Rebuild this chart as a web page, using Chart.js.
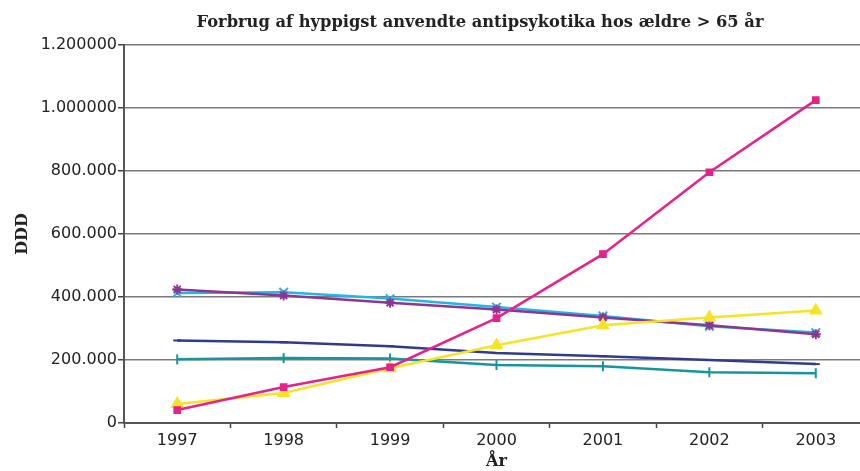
<!DOCTYPE html>
<html>
<head>
<meta charset="utf-8">
<script src="https://cdn.jsdelivr.net/npm/chart.js@4/dist/chart.umd.min.js"></script>
<style>
  html, body { margin: 0; padding: 0; background: #ffffff; overflow: hidden; }
  #wrap { width: 860px; height: 471px; position: relative; overflow: hidden; }
  #c { display: block; }
</style>
</head>
<body>
<div id="wrap"><canvas id="c" width="869" height="471"></canvas></div>
<script>
const years = ['1997', '1998', '1999', '2000', '2001', '2002', '2003'];
const yTickValues = [0, 200000, 400000, 600000, 800000, 1000000, 1200000];
const yTickLabels = ['0', '200.000', '400.000', '600.000', '800.000', '1.000000', '1.200000'];

const magentaSeries = [41000, 114000, 177000, 333000, 536000, 796000, 1025000];
const yellowSeries  = [60000, 95000, 174000, 247000, 310000, 335000, 357000];
const purpleSeries  = [424000, 405000, 382000, 360000, 335000, 310000, 282000];
const cyanSeries    = [413000, 415000, 395000, 368000, 340000, 307000, 287000];
const navySeries    = [262000, 256000, 244000, 222000, 212000, 200000, 187000];
const tealSeries    = [202000, 206000, 205000, 184000, 180000, 161000, 158000];

const titleText = 'Forbrug af hyppigst anvendte antipsykotika hos ældre > 65 år';

function ds(label, data, color, style, radius, rot) {
  return {
    label, data,
    borderColor: color, backgroundColor: color,
    borderWidth: 2.5,
    pointStyle: style, pointRadius: radius, pointHoverRadius: radius,
    pointRotation: rot || 0,
    pointBorderColor: color, pointBackgroundColor: color,
    pointBorderWidth: 2,
    tension: 0, fill: false
  };
}

const titlePlugin = {
  id: 'topTitle',
  afterDraw(chart) {
    const ctx = chart.ctx;
    ctx.save();
    ctx.font = 'bold 16.3px "DejaVu Serif"';
    ctx.fillStyle = '#222';
    ctx.textAlign = 'center';
    ctx.textBaseline = 'middle';
    ctx.fillText(titleText, 480, 23);
    ctx.restore();
  }
};

new Chart(document.getElementById('c'), {
  type: 'line',
  data: {
    labels: years,
    datasets: [
      ds('Magenta', magentaSeries, '#E8208C', 'rect', 4),
      ds('Gul', yellowSeries, '#F5E425', 'triangle', 6),
      ds('Lilla', purpleSeries, '#8E3592', 'star', 5),
      ds('Cyan', cyanSeries, '#22B5E8', 'crossRot', 6),
      ds('Mørkeblå', navySeries, '#303A8F', 'line', 4),
      ds('Turkis', tealSeries, '#14979C', 'line', 5, 90)
    ]
  },
  plugins: [titlePlugin],
  options: {
    responsive: false,
    animation: false,
    layout: { autoPadding: false, padding: { left: 0, right: 0, top: 45, bottom: 0 } },
    plugins: {
      legend: { display: false },
      tooltip: { enabled: false },
      title: { display: false }
    },
    scales: {
      x: {
        type: 'category',
        offset: true,
        grid: {
          offset: true,
          drawOnChartArea: false,
          drawTicks: true,
          tickLength: 5,
          tickWidth: 1.5,
          tickColor: '#444'
        },
        border: { display: true, color: '#555', width: 2 },
        ticks: {
          color: '#222',
          padding: 3,
          font: { family: 'DejaVu Sans', size: 16, lineHeight: 1.2 }
        },
        title: {
          display: true,
          text: 'År',
          color: '#222',
          font: { family: 'DejaVu Serif', size: 16, weight: 'bold', lineHeight: 1.2 },
          padding: { top: 0, bottom: 0 }
        },
        afterFit: (s) => { s.height = 48; }
      },
      y: {
        min: 0,
        max: 1200000,
        afterBuildTicks: (s) => { s.ticks = yTickValues.map(v => ({ value: v })); },
        grid: {
          color: '#7a7a7a',
          lineWidth: 1.5,
          drawTicks: true,
          tickLength: 6,
          tickColor: '#444'
        },
        border: { display: true, color: '#555', width: 2 },
        ticks: {
          color: '#222',
          padding: 1,
          font: { family: 'DejaVu Sans', size: 16, lineHeight: 1.2 },
          callback: (v) => {
            const i = yTickValues.indexOf(v);
            return i >= 0 ? yTickLabels[i] : '';
          }
        },
        title: {
          display: true,
          text: 'DDD',
          color: '#222',
          font: { family: 'DejaVu Serif', size: 16, weight: 'bold', lineHeight: 1.2 },
          padding: { top: 13, bottom: 0 }
        },
        afterFit: (s) => { s.width = 124; }
      }
    }
  }
});
</script>
</body>
</html>
